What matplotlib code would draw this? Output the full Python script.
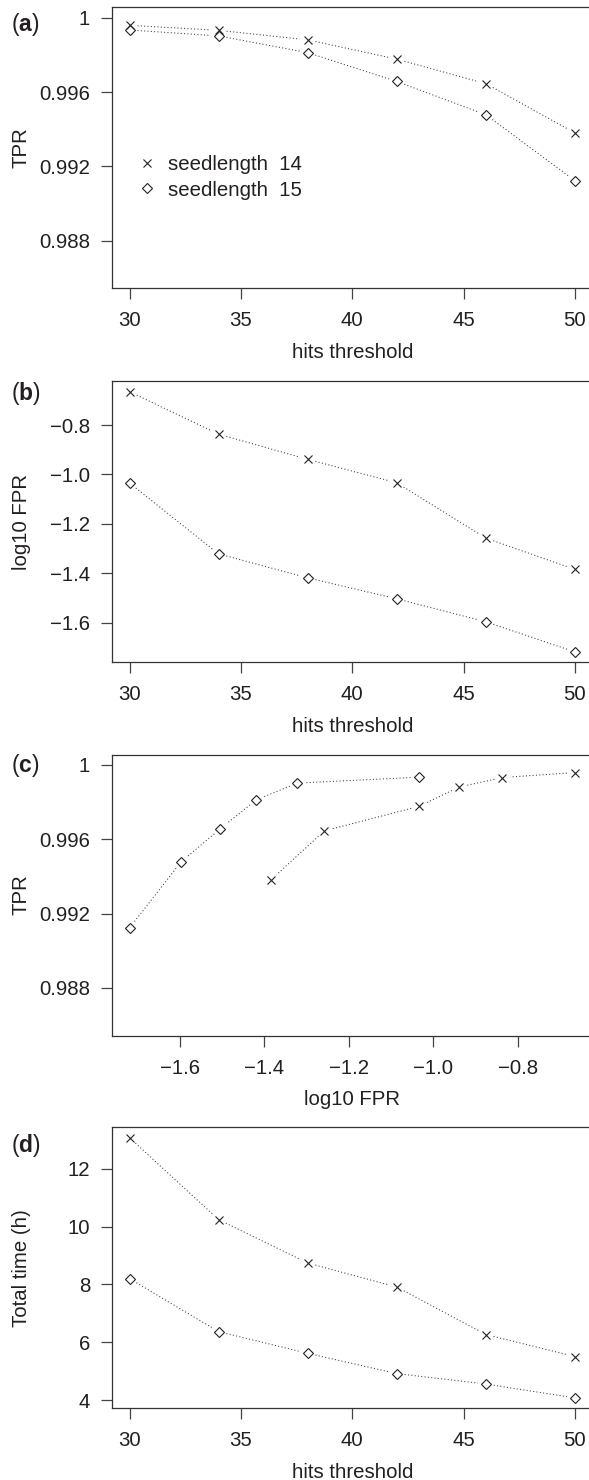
import numpy as np
import matplotlib
matplotlib.use("Agg")
import matplotlib.pyplot as plt
from matplotlib.lines import Line2D

# ---------------- data ----------------
hits = [30, 34, 38, 42, 46, 50]
tpr_14 = [0.99959, 0.99932, 0.99881, 0.99777, 0.99645, 0.99380]
tpr_15 = [0.99934, 0.99902, 0.99812, 0.99657, 0.99478, 0.99123]
log10fpr_14 = [-0.665, -0.837, -0.939, -1.034, -1.258, -1.385]
log10fpr_15 = [-1.035, -1.322, -1.419, -1.504, -1.597, -1.719]
time_14 = [13.07, 10.24, 8.74, 7.91, 6.27, 5.51]
time_15 = [8.20, 6.37, 5.62, 4.92, 4.56, 4.08]

series_labels = ["seedlength  14", "seedlength  15"]
hits_ticks = [30, 35, 40, 45, 50]
tpr_ticks = [0.988, 0.992, 0.996, 1.0]
tpr_ticklabels = ["0.988", "0.992", "0.996", "1"]
fpr_ticks = [-1.6, -1.4, -1.2, -1.0, -0.8]
fpr_ticklabels = ["\u22121.6", "\u22121.4", "\u22121.2", "\u22121.0", "\u22120.8"]
time_ticks = [4, 6, 8, 10, 12]
time_ticklabels = ["4", "6", "8", "10", "12"]

# ---------------- style ----------------
plt.rcParams["font.family"] = ["Liberation Sans", "DejaVu Sans"]
plt.rcParams["mathtext.fontset"] = "custom"
plt.rcParams["mathtext.rm"] = "Liberation Sans"
plt.rcParams["mathtext.bf"] = "Liberation Sans:bold"

TXT = "#231f20"
SPINE = "#333333"
MK = "#222222"
LINE = "#3a3a3a"
FS = 14.7
TAG_FS = 16.5

W, H = 589, 1480
AXL, AXW, AXH = 111.7, 481.0, 281.0
tops = [7.3, 381.3, 754.5, 1127.3]
tag_baselines = [30.6, 400.3, 771.8, 1152.4]

fig = plt.figure(figsize=(W / 100, H / 100), dpi=100)


def r_lim(vals, pad=0.04):
    lo, hi = min(vals), max(vals)
    r = hi - lo
    return lo - pad * r, hi + pad * r


def gapped(ax, x, y, gap=8.0):
    pts = ax.transData.transform(np.column_stack([x, y]))
    inv = ax.transData.inverted()
    for p, q in zip(pts[:-1], pts[1:]):
        d = q - p
        L = np.hypot(*d)
        if L <= 2 * gap:
            continue
        u = d / L
        a, b = inv.transform([p + u * gap, q - u * gap])
        ax.plot([a[0], b[0]], [a[1], b[1]], ls=(0, (1, 2.2)), lw=0.75,
                color=LINE, dash_capstyle="butt")


def panel(idx, tag, x14, y14, x15, y15, xlim, ylim, xticks, xticklabels,
          yticks, yticklabels, xlabel, ylabel):
    top = tops[idx]
    ax = fig.add_axes([AXL / W, 1 - (top + AXH) / H, AXW / W, AXH / H])
    ax.set_xlim(*xlim)
    ax.set_ylim(*ylim)
    for s in ax.spines.values():
        s.set_color(SPINE)
        s.set_linewidth(0.9)
    ax.set_xticks(xticks)
    ax.set_xticklabels(xticklabels)
    ax.set_yticks(yticks)
    ax.set_yticklabels(yticklabels)
    ax.tick_params(axis="both", direction="out", length=7.6, width=0.9,
                   color="#444444", labelsize=FS, labelcolor=TXT)
    ax.tick_params(axis="x", pad=9)
    ax.tick_params(axis="y", pad=8)
    ax.set_xlabel(xlabel, fontsize=FS, color=TXT)
    ax.set_ylabel(ylabel, fontsize=FS, color=TXT)
    ax.xaxis.set_label_coords(0.5, -(342.7 - 288.5) / AXH)
    ax.yaxis.set_label_coords(-(AXL - 30.8) / AXW, 0.5)

    gapped(ax, x14, y14)
    gapped(ax, x15, y15)
    ax.plot(x14, y14, ls="none", marker="x", ms=6, mew=0.8, color=MK)
    ax.plot(x15, y15, ls="none", marker="D", ms=5.5, mew=0.8, mfc="none",
            mec=MK)

    fig.text(25.5 / W, 1 - tag_baselines[idx] / H, "($\\mathbf{%s}$)" % tag,
             ha="center", va="baseline", fontsize=TAG_FS, color=TXT)
    return ax


tpr_lim = r_lim([0.986, 1.0])
hits_lim = r_lim(hits)

ax_a = panel(0, "a", hits, tpr_14, hits, tpr_15, hits_lim, tpr_lim,
             hits_ticks, [str(v) for v in hits_ticks], tpr_ticks,
             tpr_ticklabels, "hits threshold", "TPR")
handles = [Line2D([], [], ls="none", marker="x", ms=6, mew=0.8, color=MK),
           Line2D([], [], ls="none", marker="D", ms=5.5, mew=0.8, mfc="none",
                  mec=MK)]
leg = ax_a.legend(handles, series_labels, loc="center left",
                  bbox_to_anchor=(137 / W, 1 - 177.2 / H),
                  bbox_transform=fig.transFigure, frameon=False,
                  handlelength=1.0, handletextpad=0.5, labelspacing=0.33,
                  borderpad=0, borderaxespad=0, fontsize=FS)
for t in leg.get_texts():
    t.set_color(TXT)

panel(1, "b", hits, log10fpr_14, hits, log10fpr_15, hits_lim,
      r_lim(log10fpr_14 + log10fpr_15), hits_ticks,
      [str(v) for v in hits_ticks], fpr_ticks, fpr_ticklabels,
      "hits threshold", "log10 FPR")

panel(2, "c", log10fpr_14, tpr_14, log10fpr_15, tpr_15,
      r_lim(log10fpr_14 + log10fpr_15), tpr_lim, fpr_ticks, fpr_ticklabels,
      tpr_ticks, tpr_ticklabels, "log10 FPR", "TPR")

panel(3, "d", hits, time_14, hits, time_15, hits_lim,
      r_lim(time_14 + time_15), hits_ticks, [str(v) for v in hits_ticks],
      time_ticks, time_ticklabels, "hits threshold", "Total time (h)")

fig.savefig("out.png", dpi=100)
